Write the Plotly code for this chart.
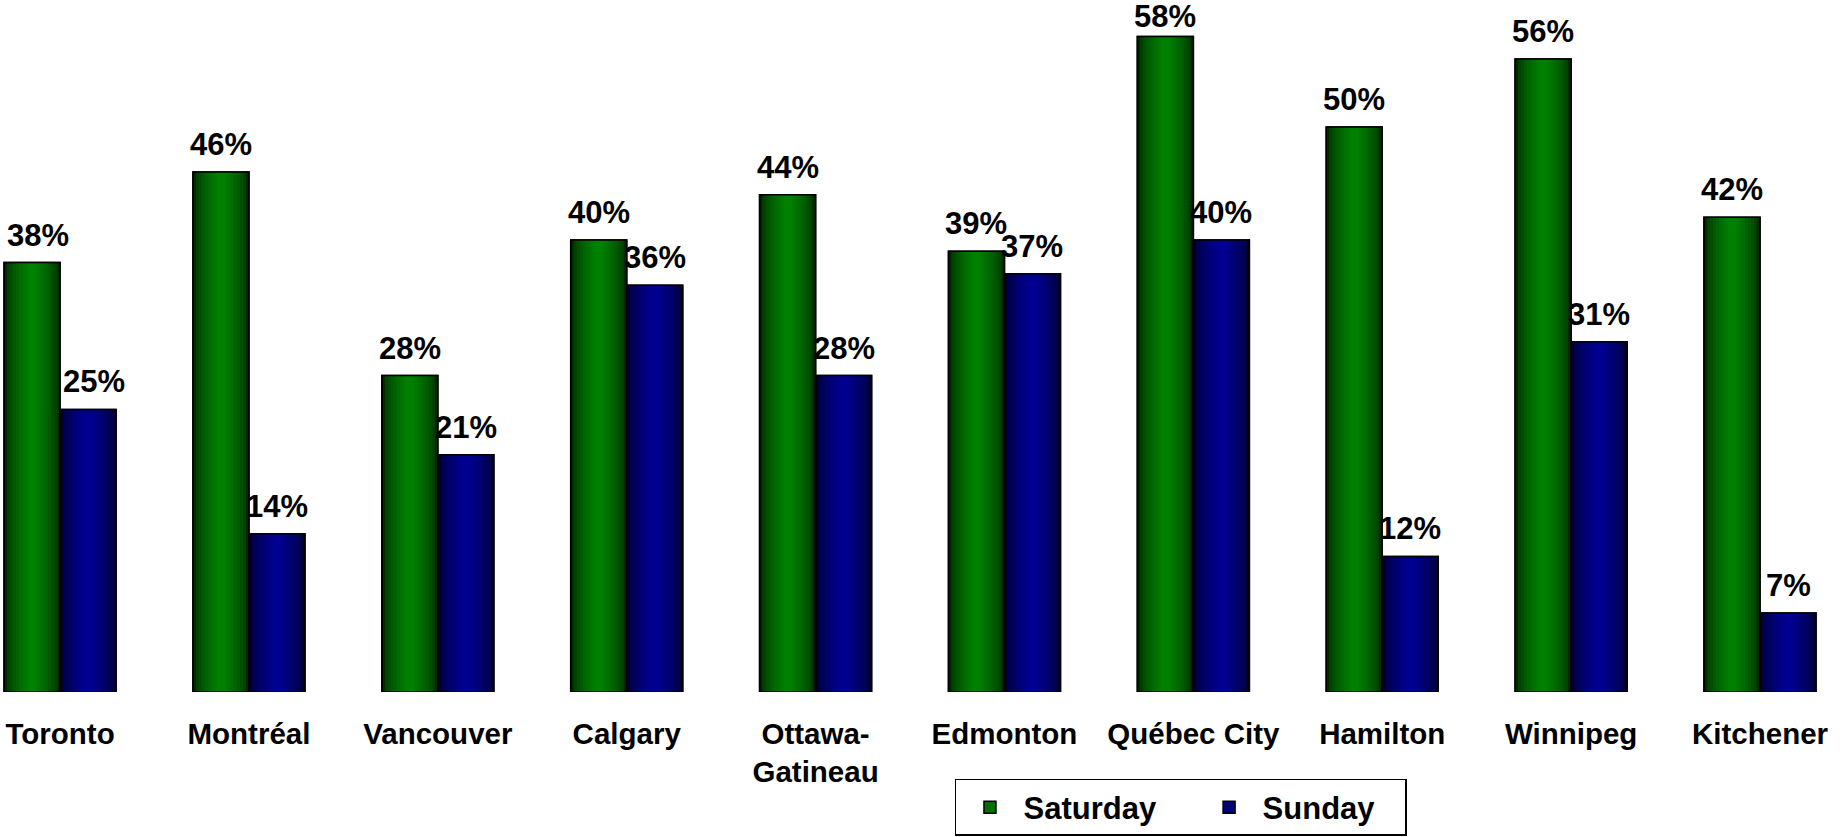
import plotly.graph_objects as go

cities = ["Toronto", "Montréal", "Vancouver", "Calgary", "Ottawa-<br>Gatineau",
          "Edmonton", "Québec City", "Hamilton", "Winnipeg", "Kitchener"]
saturday = [38, 46, 28, 40, 44, 39, 58, 50, 56, 42]
sunday = [25, 14, 21, 36, 28, 37, 40, 12, 31, 7]

FONT = "Liberation Sans, Arial, sans-serif"
x_idx = list(range(len(cities)))

BARGAP = 0.407
BW = (1 - BARGAP) / 2  # width of one bar in category units
YMAX = 61.23


def lerp(c1, c2, t):
    return "#%02x%02x%02x" % tuple(round(a + (b - a) * t) for a, b in zip(c1, c2))


series = [
    ("Saturday", saturday, -BW / 2, (0x00, 0x2a, 0x00), (0x00, 0x80, 0x00), "#007000"),
    ("Sunday", sunday, BW / 2, (0x00, 0x00, 0x30), (0x00, 0x00, 0x90), "#000080"),
]
legend_names = {"Saturday": "<b>Saturday</b>" + "\u00a0" * 4,
                "Sunday": "<b>Sunday</b>" + "\u00a0" * 3}

fig = go.Figure()
N = 9
for name, vals, center, edge, mid, legcol in series:
    fig.add_trace(go.Bar(
        x=x_idx, y=vals, width=BW, offset=center - BW / 2,
        marker=dict(color=lerp(edge, mid, 0.0), line=dict(color="black", width=1.5)),
        showlegend=False, hoverinfo="skip",
    ))
    for k in range(1, N):
        t = k / (N - 1)
        w = BW * (1 - 0.85 * t)
        fig.add_trace(go.Bar(
            x=x_idx, y=vals, width=w, offset=center - w / 2,
            marker=dict(color=lerp(edge, mid, t ** 0.6), line=dict(width=0)),
            showlegend=False, hoverinfo="skip",
        ))
    fig.add_trace(go.Bar(
        x=x_idx, y=vals, width=BW, offset=center - BW / 2,
        marker=dict(color="rgba(0,0,0,0)", line=dict(color="black", width=1.5)),
        showlegend=False, hoverinfo="skip",
    ))
    fig.add_trace(go.Bar(
        x=[None], y=[None], name=legend_names[name],
        marker=dict(color=legcol, line=dict(color="black", width=1.5)),
        showlegend=True,
    ))
    for i, v in zip(x_idx, vals):
        ys = 0 if v == max(saturday) else 8
        xs = 6 if i == 0 else 0
        fig.add_annotation(
            x=i + center, y=v, text=f"<b>{v}%</b>", showarrow=False,
            xanchor="center", yanchor="bottom", yshift=ys, xshift=xs,
            font=dict(family=FONT, size=31, color="black"),
        )

fig.update_layout(
    width=1845, height=837,
    barmode="overlay",
    plot_bgcolor="white", paper_bgcolor="white",
    margin=dict(l=0, r=0, t=0, b=145),
    font=dict(family=FONT, size=29.5, color="black"),
    xaxis=dict(
        tickmode="array", tickvals=x_idx,
        ticktext=[f"<b>{c}</b>" for c in cities],
        range=[-0.318, 9.45], showgrid=False, zeroline=False, showline=False,
        ticks="", tickfont=dict(family=FONT, size=29.5, color="black"),
        ticklabelstandoff=21,
    ),
    yaxis=dict(range=[0, YMAX], visible=False),
    legend=dict(
        orientation="h", x=0.5176, xanchor="left", y=-0.1257, yanchor="top",
        bordercolor="black", borderwidth=1.5, bgcolor="white",
        font=dict(family=FONT, size=31, color="black"),
        itemwidth=57, traceorder="normal",
    ),
    showlegend=True,
)

fig.write_html(
    "out.html",
    config={"displayModeBar": False},
    post_script="document.body.style.margin='0';document.body.style.overflow='hidden';",
)
